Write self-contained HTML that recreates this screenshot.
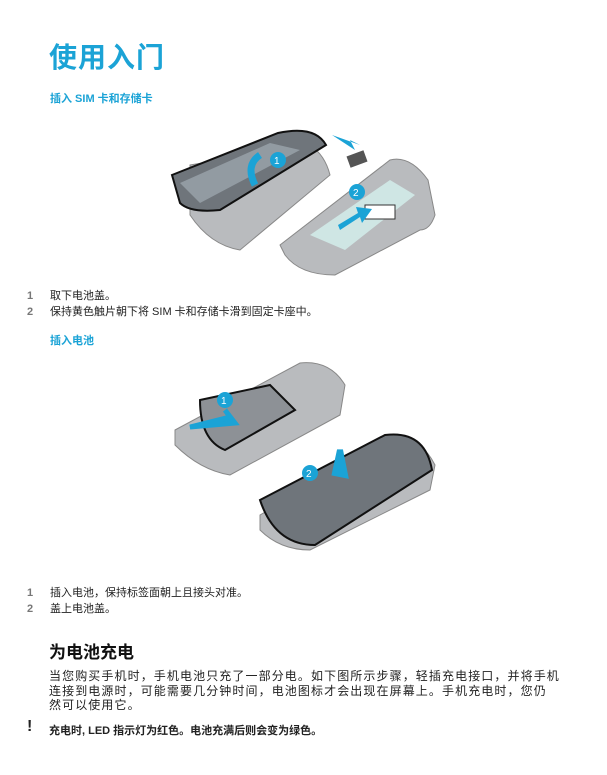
<!DOCTYPE html>
<html><head><meta charset="utf-8"><style>
body{margin:0;width:607px;height:775px;background:#fff;position:relative;overflow:hidden;font-family:"Liberation Sans","Noto Sans CJK SC",sans-serif;color:#222}
.a{position:absolute;white-space:nowrap}
.h1{left:49px;top:36px;font-size:28px;font-weight:bold;color:#1ba3d6;letter-spacing:1px}
.h3{left:50px;font-size:11px;font-weight:bold;color:#1ba3d6}
.li{font-size:11px;left:27px}
.li b{display:inline-block;width:23px;color:#777}
.p{left:49px;font-size:12px;line-height:14.5px;letter-spacing:1.1px;top:669px}
</style></head><body>
<div class="a h1">使用入门</div>
<div class="a h3" style="top:90px">插入 SIM 卡和存储卡</div>
<svg class="a" style="left:160px;top:105px" width="290" height="175" viewBox="0 0 290 175">
 <path d="M30 60 L150 40 Q165 50 170 70 L80 145 Q50 140 30 110Z" fill="#b9bbbe" stroke="#888"/>
 <path d="M12 70 L118 28 Q155 20 166 40 L60 105 Q30 108 20 98Z" fill="#6f757b" stroke="#111" stroke-width="2"/>
 <path d="M20 78 L110 38 L140 45 L40 98Z" fill="#aab4bc" opacity=".6"/>
 <path d="M95 80 Q85 60 100 50" stroke="#1ba3d6" stroke-width="7" fill="none"/>
 <circle cx="118" cy="55" r="8" fill="#1ba3d6"/><text x="114" y="59" font-size="10" fill="#fff" font-family="Liberation Sans">1</text>
 <path d="M120 140 L230 55 Q250 50 268 75 L275 110 Q270 125 260 125 L175 170 Q140 170 125 150Z" fill="#b9bbbe" stroke="#888"/>
 <path d="M150 130 L230 75 L255 90 L185 145Z" fill="#cfe6e4"/>
 <rect x="205" y="100" width="30" height="14" fill="#fff" stroke="#333"/>
 <circle cx="197" cy="87" r="8" fill="#1ba3d6"/><text x="193" y="91" font-size="10" fill="#fff" font-family="Liberation Sans">2</text>
 <path d="M180 125 L200 112 L202 118 L212 104 L196 102 L198 108 L178 120Z" fill="#1ba3d6"/>
 <path d="M172 30 L195 45 L190 35 L200 40Z" fill="#1ba3d6"/>
 <rect x="188" y="48" width="18" height="12" fill="#555" transform="rotate(-20 197 54)"/>
</svg>
<div class="a li" style="top:287px"><b>1</b>取下电池盖。</div>
<div class="a li" style="top:303px"><b>2</b>保持黄色触片朝下将 SIM 卡和存储卡滑到固定卡座中。</div>
<div class="a h3" style="top:332px">插入电池</div>
<svg class="a" style="left:160px;top:355px" width="290" height="200" viewBox="0 0 290 200">
 <path d="M15 75 L140 8 Q170 5 185 30 L180 60 L70 120 Q40 115 15 90Z" fill="#b9bbbe" stroke="#888"/>
 <path d="M40 45 L110 30 L135 55 L65 95 Q40 85 40 45Z" fill="#8d9196" stroke="#111" stroke-width="2"/>
 <path d="M30 72 L70 62 L65 55 L75 68 Z" fill="#1ba3d6" stroke="#1ba3d6" stroke-width="5"/>
 <circle cx="65" cy="45" r="8" fill="#1ba3d6"/><text x="61" y="49" font-size="10" fill="#fff" font-family="Liberation Sans">1</text>
 <path d="M100 160 L230 85 Q260 80 275 110 L270 135 L150 195 Q120 195 100 175Z" fill="#b9bbbe" stroke="#888"/>
 <path d="M100 145 L225 80 Q265 75 272 115 L155 190 Q115 190 100 145Z" fill="#6f757b" stroke="#111" stroke-width="2"/>
 <path d="M180 95 L185 120 L175 118 Z" fill="#1ba3d6" stroke="#1ba3d6" stroke-width="6"/>
 <circle cx="150" cy="118" r="8" fill="#1ba3d6"/><text x="146" y="122" font-size="10" fill="#fff" font-family="Liberation Sans">2</text>
</svg>
<div class="a li" style="top:584px"><b>1</b>插入电池，保持标签面朝上且接头对准。</div>
<div class="a li" style="top:600px"><b>2</b>盖上电池盖。</div>
<div class="a" style="left:49px;top:638px;font-size:17px;font-weight:bold;color:#111">为电池充电</div>
<div class="a p">当您购买手机时，手机电池只充了一部分电。如下图所示步骤，轻插充电接口，并将手机<br>连接到电源时，可能需要几分钟时间，电池图标才会出现在屏幕上。手机充电时，您仍<br>然可以使用它。</div>
<div class="a" style="left:27px;top:718px;font-size:16px;font-weight:bold">!</div>
<div class="a" style="left:49px;top:722px;font-size:11px;font-weight:bold">充电时, LED 指示灯为红色。电池充满后则会变为绿色。</div>
</body></html>
